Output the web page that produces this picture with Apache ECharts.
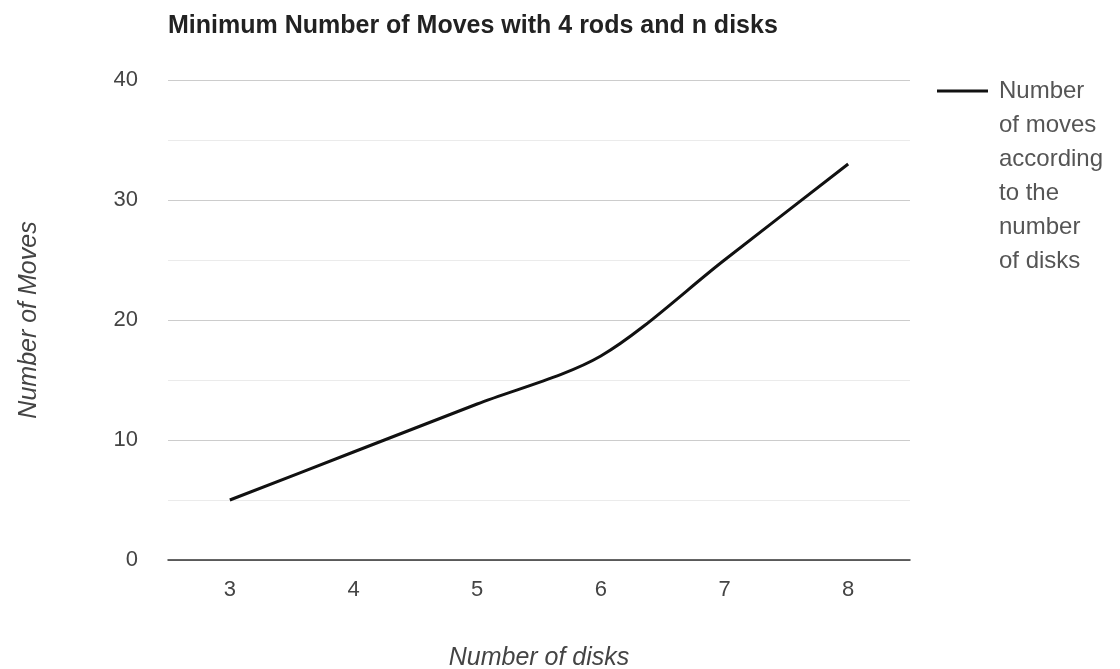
<!DOCTYPE html>
<html>
<head>
<meta charset="utf-8">
<script src="https://cdn.jsdelivr.net/npm/echarts@6/dist/echarts.min.js"></script>
<style>html,body{margin:0;padding:0;background:#fff}#c{width:1120px;height:669px}</style>
</head>
<body>
<div id="c"></div>
<script>
const titleText = 'Minimum Number of Moves with 4 rods and n disks';
const categories = ['3', '4', '5', '6', '7', '8'];
const moves = [5, 9, 13, 17, 25, 33];
const seriesName = 'Number of moves according to the number of disks';
const legendLines = ['Number', 'of moves', 'according', 'to the', 'number', 'of disks'];
const xAxisName = 'Number of disks';
const yAxisName = 'Number of Moves';

const FONT = 'Liberation Sans, Arial, sans-serif';
const LH = 34;
const blockH = LH * legendLines.length;
// legend icon: a bar at the first text line, inside a tall transparent box
const iconPath = 'path://M0,' + (LH / 2 - 1.5) + 'h51v3h-51z M0,0h0.01v0.01h-0.01z M57,' + blockH + 'h0.01v0.01h-0.01z';

const chart = echarts.init(document.getElementById('c'), null, {renderer: 'canvas'});
chart.setOption({
  animation: false,
  backgroundColor: '#fff',
  title: {
    text: titleText,
    left: 168, top: 14, padding: 0,
    textStyle: {fontFamily: FONT, fontWeight: 'bold', fontSize: 25, color: '#222'}
  },
  legend: {
    left: 937, top: 74, padding: 0,
    orient: 'vertical',
    icon: iconPath, itemWidth: 57, itemHeight: blockH,
    formatter: () => legendLines.join('\n'),
    textStyle: {fontFamily: FONT, fontSize: 24, color: '#555', lineHeight: LH},
    data: [seriesName]
  },
  grid: {left: 168, right: 210, top: 80, bottom: 109, containLabel: false, outerBoundsMode: 'none'},
  xAxis: {
    type: 'category', data: categories, boundaryGap: true,
    name: xAxisName, nameLocation: 'middle', nameGap: 86,
    nameTextStyle: {fontFamily: FONT, fontStyle: 'italic', fontSize: 25, color: '#444'},
    axisLine: {lineStyle: {color: '#333', width: 1.5}},
    axisTick: {show: false},
    axisLabel: {fontFamily: FONT, fontSize: 22, color: '#444', margin: 19}
  },
  yAxis: {
    type: 'value', min: 0, max: 40, interval: 10,
    name: yAxisName, nameLocation: 'middle', nameGap: 126,
    nameTextStyle: {fontFamily: FONT, fontStyle: 'italic', fontSize: 25, color: '#444'},
    axisLine: {show: false}, axisTick: {show: false},
    axisLabel: {fontFamily: FONT, fontSize: 22, color: '#444', margin: 30},
    splitLine: {lineStyle: {color: '#cccccc', width: 1}},
    minorTick: {show: false, splitNumber: 2},
    minorSplitLine: {show: true, lineStyle: {color: '#ebebeb', width: 1}}
  },
  series: [{
    name: seriesName, type: 'line', data: moves, smooth: 0.3,
    showSymbol: false, symbol: 'none',
    lineStyle: {color: '#111', width: 3},
    itemStyle: {color: '#111'}
  }]
});
</script>
</body>
</html>
